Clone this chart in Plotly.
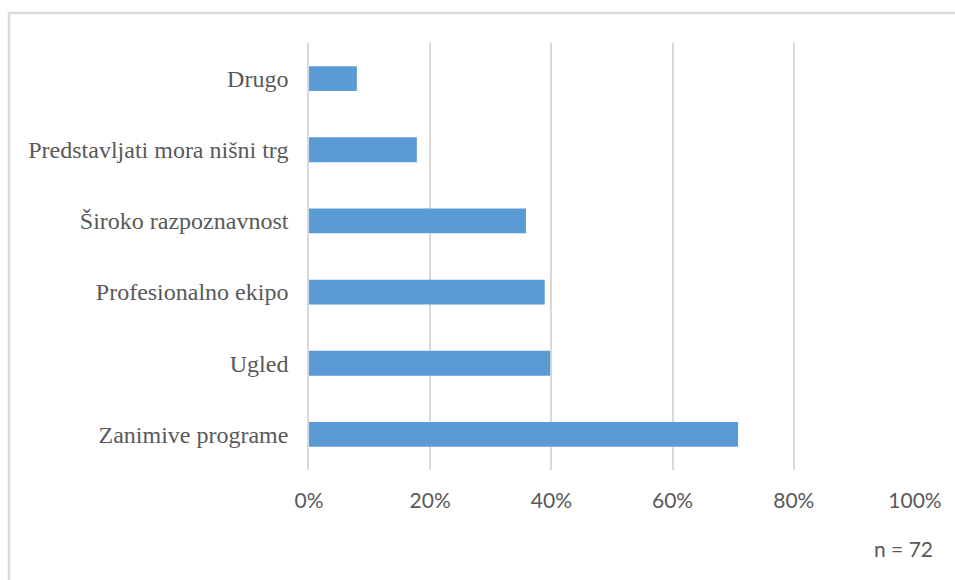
import plotly.graph_objects as go

# Survey answers (n = 72), share of respondents
categories = [
    "Zanimive programe",
    "Ugled",
    "Profesionalno ekipo",
    "Široko razpoznavnost",
    "Predstavljati mora nišni trg",
    "Drugo",
]
shares = [0.708, 0.398, 0.389, 0.358, 0.178, 0.079]
tick_values = [0, 0.2, 0.4, 0.6, 0.8, 1.0]
tick_labels = ["0%", "20%", "40%", "60%", "80%", "100%"]
sample_note = "n = 72"

BAR_COLOR = "#5B9BD5"
GRID_COLOR = "#D9D9D9"
TEXT_COLOR = "#595959"

fig = go.Figure(
    go.Bar(
        x=shares,
        y=categories,
        orientation="h",
        marker=dict(color=BAR_COLOR, line=dict(width=0)),
        hoverinfo="skip",
    )
)

W, H = 955, 580
L, R, T, B = 309, 40, 43, 110
pw, ph = W - L - R, H - T - B

fig.update_layout(
    width=W,
    height=H,
    margin=dict(l=L, r=R, t=T, b=B),
    paper_bgcolor="white",
    plot_bgcolor="white",
    bargap=0.65,
    showlegend=False,
    xaxis=dict(
        range=[0, 1.0],
        tickvals=tick_values,
        ticktext=tick_labels,
        showgrid=True,
        gridcolor=GRID_COLOR,
        gridwidth=1.5,
        zeroline=False,
        showline=False,
        ticks="",
        ticklabelstandoff=16,
        tickfont=dict(family="Lato, Open Sans, sans-serif", size=21, color=TEXT_COLOR),
        fixedrange=True,
    ),
    yaxis=dict(
        categoryorder="array",
        categoryarray=categories,
        showgrid=False,
        zeroline=False,
        showline=True,
        linecolor=GRID_COLOR,
        linewidth=1.5,
        ticks="",
        ticklabelstandoff=14,
        tickfont=dict(family="Liberation Serif, Times New Roman, serif", size=24, color=TEXT_COLOR),
        fixedrange=True,
    ),
    shapes=[
        # light frame around the chart area
        dict(
            type="rect",
            xref="paper",
            yref="paper",
            x0=(9 - L) / pw,
            x1=(W + 20 - L) / pw,
            y0=-(H + 20 - T - ph) / ph,
            y1=1 + (T - 13) / ph,
            line=dict(color=GRID_COLOR, width=2.5),
            fillcolor="rgba(0,0,0,0)",
            layer="below",
        )
    ],
    annotations=[
        dict(
            text=sample_note,
            xref="paper",
            yref="paper",
            x=(935 - L) / pw,
            y=-(548 - T - ph) / ph,
            xanchor="right",
            yanchor="middle",
            showarrow=False,
            font=dict(family="Lato, Open Sans, sans-serif", size=21, color=TEXT_COLOR),
        )
    ],
)

fig.write_html("out.html")
